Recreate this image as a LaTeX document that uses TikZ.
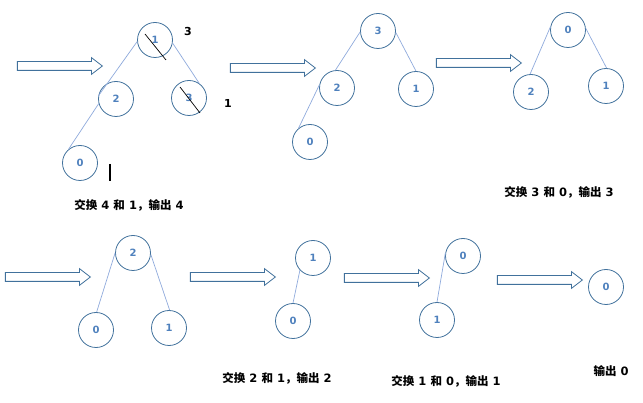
\documentclass[tikz,border=0pt]{standalone}
\usepackage{fontspec}
\setmainfont{DejaVu Sans}
\newfontfamily\cjkfont{Noto Sans CJK SC}
\usepackage{tikz}
\usetikzlibrary{calc, shapes.arrows}
\definecolor{ringblue}{HTML}{41719C}
\definecolor{edgeblue}{HTML}{8FAADC}
\definecolor{digitblue}{HTML}{4F81BD}

\begin{document}
\begin{tikzpicture}[
        x=1pt, y=-1pt,
        heapnode/.style = {draw=ringblue, circle, line width=0.8pt, minimum size=35pt, inner sep=0pt, font=\fontsize{10}{11}\selectfont\bfseries, text=digitblue},
        link/.style = {draw=edgeblue, line width=0.7pt},
        bigarrow/.style = {draw=ringblue, fill=white, single arrow, line width=0.8pt, minimum height=85pt, minimum width=0pt, text height=0pt, text depth=0pt, text width=0pt, inner xsep=0pt, inner ysep=4pt, single arrow head extend=4pt, single arrow tip angle=75, anchor=center},
        strike/.style = {draw=black, line width=0.7pt},
        note/.style = {font=\fontsize{11}{12}\selectfont\bfseries},
        caption/.style = {font=\fontsize{11.5}{13}\selectfont\bfseries}
    ]
        \useasboundingbox (0,0) rectangle (643,403);

        % Step 1: swap 4 and 1
        \node (arr1) [bigarrow] at (57,66) {};
        \node (r1) [heapnode] at (155,40) {1};
        \node (a1) [heapnode] at (116,99) {2};
        \node (b1) [heapnode] at (189,98) {3};
        \node (c1) [heapnode] at (80,163) {0};
        \draw [link] (r1.185) -- (a1.170);
        \draw [link] (r1.350) -- (b1.55);
        \draw [link] (a1.195) -- (c1.130);
        \draw [strike] ($(r1)+(-10,-6)$) -- ($(r1)+(11,20)$);
        \draw [strike] ($(b1)+(-9,-11)$) -- ($(b1)+(11,15)$);
        \node (new1) [note] at (188,31) {3};
        \node (new3) [note] at (228,103) {1};
        \coordinate (barTop) at (110,164);
        \coordinate (barEnd) at (110,181);
        \draw [line width=1.3pt] (barTop) -- (barEnd);
        \node (cap1) [caption] at (129,205) {{\cjkfont 交换} 4 {\cjkfont 和} 1{\cjkfont ，输出} 4};

        % Step 2: swap 3 and 0
        \node (arr2) [bigarrow] at (270,68) {};
        \node (r2) [heapnode] at (378,31) {3};
        \node (a2) [heapnode] at (337,88) {2};
        \node (b2) [heapnode] at (416,89) {1};
        \node (c2) [heapnode] at (310,142) {0};
        \draw [link] (r2.183) -- (a2.95);
        \draw [link] (r2.355) -- (b2.90);
        \draw [link] (a2.170) -- (c2.130);

        % Step 3
        \node (arr3) [bigarrow] at (476,63) {};
        \node (r3) [heapnode] at (568,30) {0};
        \node (a3) [heapnode] at (531,92) {2};
        \node (b3) [heapnode] at (606,86) {1};
        \draw [link] (r3.170) -- (a3.93);
        \draw [link] (r3.5) -- (b3.88);
        \node (cap2) [caption] at (559,192) {{\cjkfont 交换} 3 {\cjkfont 和} 0{\cjkfont ，输出} 3};

        % Step 4: swap 2 and 1
        \node (arr4) [bigarrow] at (45,277) {};
        \node (r4) [heapnode] at (133,253) {2};
        \node (a4) [heapnode] at (96,330) {0};
        \node (b4) [heapnode] at (169,328) {1};
        \draw [link] (r4.180) -- (a4.88);
        \draw [link] (r4.355) -- (b4.88);

        \node (arr5) [bigarrow] at (230,277) {};
        \node (r5) [heapnode] at (313,258) {1};
        \node (a5) [heapnode] at (293,321) {0};
        \draw [link] (r5.223) -- (a5.90);
        \node (cap3) [caption] at (277,378) {{\cjkfont 交换} 2 {\cjkfont 和} 1{\cjkfont ，输出} 2};

        % Step 5: swap 1 and 0
        \node (arr6) [bigarrow] at (384,278) {};
        \node (r6) [heapnode] at (463,256) {0};
        \node (a6) [heapnode] at (437,320) {1};
        \draw [link] (r6.170) -- (a6.90);
        \node (cap4) [caption] at (446,381) {{\cjkfont 交换} 1 {\cjkfont 和} 0{\cjkfont ，输出} 1};

        % Last element
        \node (arr7) [bigarrow] at (537,280) {};
        \node (r7) [heapnode] at (606,287) {0};
        \node (cap5) [caption] at (611,371) {{\cjkfont 输出} 0};

    \end{tikzpicture}
\end{document}
